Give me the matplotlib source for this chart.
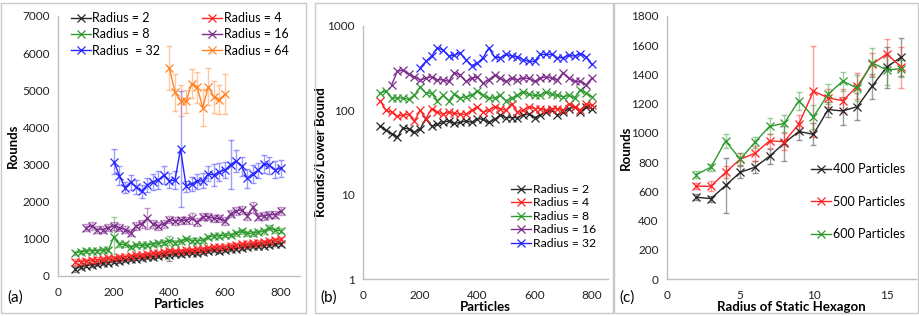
import matplotlib
matplotlib.use("Agg")
import matplotlib.pyplot as plt
from matplotlib.patches import Rectangle
import numpy as np

plt.rcParams['font.family'] = ['Lato', 'DejaVu Sans']

# ---------------- Panel (a) data ----------------
particles_a = list(range(60, 801, 20))
r2_a = [190, 250, 280, 300, 310, 350, 360, 390, 400, 420, 450, 470, 480, 500, 510, 530, 560, 560, 580,
        600, 620, 630, 620, 650, 680, 690, 680, 700, 720, 740, 760, 770, 800, 810, 820, 830, 850, 870]
r2_a_err = [80, 50, 50, 50, 50, 50, 50, 50, 50, 50, 50, 50, 50, 50, 50, 50, 50, 160, 50,
            50, 50, 50, 50, 50, 50, 50, 50, 50, 50, 50, 50, 50, 50, 50, 50, 50, 50, 50]
r4_a = [380, 390, 410, 420, 440, 450, 480, 490, 500, 520, 540, 560, 570, 580, 610, 620, 640, 660, 680,
        680, 690, 700, 720, 730, 760, 770, 780, 790, 820, 840, 860, 870, 880, 900, 920, 940, 970, 1000]
r4_a_err = [80, 60, 60, 60, 60, 60, 60, 60, 60, 60, 60, 60, 60, 60, 60, 60, 60, 60, 60,
            60, 60, 60, 60, 60, 60, 60, 60, 60, 60, 60, 60, 60, 60, 60, 60, 60, 60, 60]
r8_a = [620, 650, 670, 680, 680, 690, 700, 1050, 850, 850, 780, 830, 830, 830, 860, 880, 900, 950, 900,
        930, 1000, 950, 950, 960, 1050, 1080, 1080, 1100, 1100, 1150, 1200, 1150, 1150, 1180, 1200, 1300, 1230, 1220]
r8_a_err = [60, 60, 60, 60, 60, 60, 60, 550, 70, 70, 60, 60, 60, 60, 60, 60, 60, 120, 60,
            60, 60, 60, 60, 60, 60, 60, 60, 60, 60, 60, 60, 60, 60, 60, 60, 60, 60, 60]
particles_r16 = list(range(100, 801, 20))
r16_a = [1300, 1350, 1250, 1250, 1300, 1350, 1300, 1250, 1170, 1350, 1400, 1550, 1400, 1350, 1400, 1520,
         1480, 1500, 1500, 1550, 1450, 1600, 1600, 1550, 1550, 1480, 1680, 1750, 1780, 1620, 1850, 1600,
         1620, 1650, 1650, 1750]
r16_a_err = [100, 100, 100, 100, 100, 100, 100, 100, 100, 100, 100, 280, 100, 100, 100, 100,
             100, 100, 100, 150, 100, 100, 100, 100, 100, 100, 100, 100, 100, 100, 150, 100,
             100, 100, 100, 100]
particles_r32 = list(range(200, 801, 20))
r32_a = [3080, 2700, 2380, 2520, 2400, 2280, 2450, 2530, 2580, 2720, 2560, 2580, 3420, 2420, 2480, 2550,
         2560, 2750, 2720, 2800, 2850, 3000, 3100, 2950, 2630, 2750, 2850, 3020, 2980, 2860, 2900]
r32_a_err = [330, 250, 150, 200, 180, 180, 200, 220, 250, 250, 200, 250, 1560, 150, 180, 200,
             200, 200, 300, 250, 220, 650, 300, 250, 250, 250, 200, 250, 230, 230, 230]
particles_r64 = list(range(400, 601, 20))
r64_a = [5600, 4950, 4720, 4700, 5180, 5080, 4530, 5100, 4820, 4750, 4900]
r64_a_err = [580, 500, 420, 300, 400, 420, 500, 500, 420, 400, 540]

# ---------------- Panel (b) data ----------------
particles_b = list(range(60, 801, 20))
r2_b = [65, 58, 53, 48, 62, 60, 55, 60, 80, 65, 68, 72, 75, 70, 72, 75, 72, 80, 78,
        72, 78, 88, 82, 82, 82, 88, 90, 82, 88, 95, 100, 88, 95, 105, 110, 95, 110, 105]
r4_b = [130, 100, 95, 85, 88, 90, 75, 100, 80, 105, 95, 90, 95, 92, 90, 90, 100, 110, 95,
        100, 110, 105, 100, 120, 95, 100, 110, 105, 105, 100, 105, 105, 100, 120, 110, 100, 120, 115]
r8_b = [160, 170, 140, 140, 140, 135, 150, 190, 160, 160, 130, 150, 130, 155, 140, 145, 150, 170, 150,
        140, 140, 150, 130, 140, 150, 165, 155, 150, 150, 165, 155, 150, 145, 150, 140, 175, 160, 145]
particles_b16 = list(range(100, 801, 20))
r16_b = [200, 290, 300, 270, 250, 230, 240, 250, 230, 230, 220, 280, 260, 220, 240, 250, 210, 230,
         260, 240, 220, 240, 230, 240, 240, 220, 240, 250, 240, 230, 280, 240, 220, 220, 200, 240]
particles_b32 = list(range(200, 801, 20))
r32_b = [320, 380, 440, 550, 520, 440, 450, 480, 400, 340, 360, 420, 550, 430, 420, 460, 440, 430,
         400, 380, 380, 460, 460, 460, 420, 420, 450, 440, 470, 430, 350]

# ---------------- Panel (c) data ----------------
hex_radius = list(range(2, 17))
p400 = [560, 550, 640, 730, 765, 840, 930, 1010, 990, 1160, 1150, 1180, 1320, 1450, 1520]
p400_err = [20, 20, 185, 40, 40, 50, 120, 60, 75, 50, 95, 95, 85, 140, 130]
p500 = [635, 635, 730, 820, 860, 945, 940, 1060, 1285, 1240, 1220, 1320, 1470, 1540, 1450]
p500_err = [20, 35, 40, 40, 50, 50, 60, 60, 310, 60, 80, 90, 80, 100, 140]
p600 = [715, 765, 945, 820, 935, 1045, 1065, 1220, 1110, 1265, 1355, 1305, 1480, 1430, 1440]
p600_err = [25, 25, 45, 40, 40, 55, 60, 60, 80, 70, 65, 90, 100, 100, 60]

# ---------------- style ----------------
BLACK = '#262626'
RED = '#ff2222'
GREEN = '#2f9a2f'
PURPLE = '#7d2e8c'
BLUE = '#2626ff'
ORANGE = '#ff8426'
SPINE = '#bfbfbf'
FS = 8.5

W, H = 920, 316
fig = plt.figure(figsize=(W / 100, H / 100), dpi=100)


def ax_px(x0, x1, ytop, ybot):
    return fig.add_axes([x0 / W, (H - ybot) / H, (x1 - x0) / W, (ybot - ytop) / H])


def style(ax):
    for s in ['top', 'right']:
        ax.spines[s].set_visible(False)
    for s in ['left', 'bottom']:
        ax.spines[s].set_color(SPINE)
        ax.spines[s].set_linewidth(1.0)
    ax.tick_params(length=0, labelsize=FS, colors='#222222')
    ax.tick_params(axis='x', pad=8)
    ax.tick_params(axis='y', pad=6)
    ax.set_facecolor('none')


def series(ax, x, y, c, label, err=None):
    if err is not None:
        ax.errorbar(x, y, yerr=err, fmt='none', ecolor=c, alpha=0.45, elinewidth=1.0,
                    capsize=2.5, capthick=1.0, zorder=2)
    ax.plot(x, y, color=c, lw=1.0, marker='x', ms=6, mew=0.9, label=label, zorder=3)


# panel frames
for (x0, x1) in [(1, 306), (315, 613), (614, 918)]:
    fig.patches.append(Rectangle((x0 / W, 3 / H), (x1 - x0) / W, (313 - 3) / H,
                                 transform=fig.transFigure, fill=False,
                                 edgecolor='#c8c8c8', lw=1.0))

# ---------------- (a) ----------------
axa = ax_px(58.3, 300, 16, 276)
style(axa)
series(axa, particles_a, r2_a, BLACK, 'Radius = 2', r2_a_err)
series(axa, particles_a, r4_a, RED, 'Radius = 4', r4_a_err)
series(axa, particles_a, r8_a, GREEN, 'Radius = 8', r8_a_err)
series(axa, particles_r16, r16_a, PURPLE, 'Radius = 16', r16_a_err)
series(axa, particles_r32, r32_a, BLUE, 'Radius  = 32', r32_a_err)
series(axa, particles_r64, r64_a, ORANGE, 'Radius = 64', r64_a_err)
axa.set_xlim(0, 870)
axa.set_ylim(0, 7000)
axa.set_xticks([0, 200, 400, 600, 800])
axa.set_yticks(range(0, 7001, 1000))
h, l = axa.get_legend_handles_labels()
order = [0, 2, 4, 1, 3, 5]
axa.legend([h[i] for i in order], [l[i] for i in order], ncol=2, frameon=False,
           fontsize=FS + 0.5, loc='upper left', bbox_to_anchor=(0.03, 1.035),
           handlelength=1.6, handletextpad=0.1, columnspacing=3.4, labelspacing=0.35,
           borderaxespad=0)
axa.set_xlabel('Particles', fontsize=FS + 1, fontweight='bold', labelpad=0)
axa.set_ylabel('Rounds', fontsize=FS + 1, fontweight='bold')
axa.yaxis.set_label_coords(-0.165, 0.5)
fig.text(7 / W, (H - 298) / H, '(a)', fontsize=FS + 2.5, va='center', ha='left')

# ---------------- (b) ----------------
axb = ax_px(363, 608, 26, 279)
style(axb)
series(axb, particles_b, r2_b, BLACK, 'Radius = 2')
series(axb, particles_b, r4_b, RED, 'Radius = 4')
series(axb, particles_b, r8_b, GREEN, 'Radius = 8')
series(axb, particles_b16, r16_b, PURPLE, 'Radius = 16')
series(axb, particles_b32, r32_b, BLUE, 'Radius = 32')
axb.set_yscale('log')
axb.set_xlim(0, 857)
axb.set_ylim(1, 1000)
axb.set_xticks([0, 200, 400, 600, 800])
axb.set_yticks([1, 10, 100, 1000])
axb.set_yticklabels(['1', '10', '100', '1000'])
axb.yaxis.set_minor_locator(matplotlib.ticker.NullLocator())
axb.legend(frameon=False, fontsize=FS + 0.3, loc='lower right', bbox_to_anchor=(0.97, 0.1),
           handlelength=1.7, handletextpad=0.1, labelspacing=0.2, borderaxespad=0)
axb.set_xlabel('Particles', fontsize=FS + 1, fontweight='bold', labelpad=0)
axb.set_ylabel('Rounds/Lower Bound', fontsize=FS + 1, fontweight='bold')
axb.yaxis.set_label_coords(-0.15, 0.5)
fig.text(320 / W, (H - 298) / H, '(b)', fontsize=FS + 2.5, va='center', ha='left')

# ---------------- (c) ----------------
axc = ax_px(667, 916, 16, 279)
style(axc)
series(axc, hex_radius, p400, BLACK, '400 Particles', p400_err)
series(axc, hex_radius, p500, RED, '500 Particles', p500_err)
series(axc, hex_radius, p600, GREEN, '600 Particles', p600_err)
axc.set_xlim(0, 17)
axc.set_ylim(0, 1800)
axc.set_xticks([0, 5, 10, 15])
axc.set_yticks(range(0, 1801, 200))
axc.legend(frameon=False, fontsize=FS + 0.5, loc='upper left', bbox_to_anchor=(0.56, 0.46),
           handlelength=1.6, handletextpad=0.1, labelspacing=1.65, borderaxespad=0)
axc.set_xlabel('Radius of Static Hexagon', fontsize=FS + 1, fontweight='bold', labelpad=0)
axc.set_ylabel('Rounds', fontsize=FS + 1, fontweight='bold')
axc.yaxis.set_label_coords(-0.14, 0.5)
fig.text(619 / W, (H - 298) / H, '(c)', fontsize=FS + 2.5, va='center', ha='left')

fig.savefig('out.png', dpi=100)
